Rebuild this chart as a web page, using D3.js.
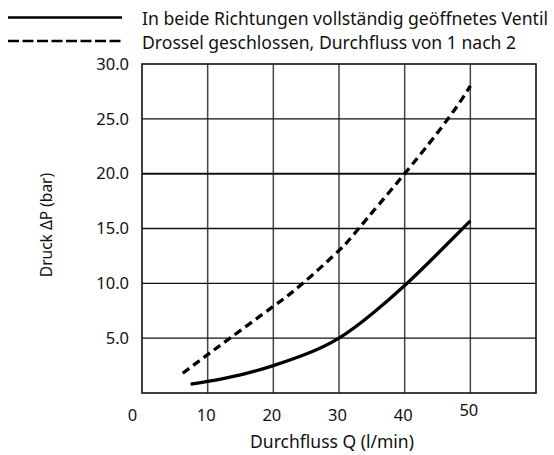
<!DOCTYPE html>
<html>
<head>
<meta charset="utf-8">
<script src="https://cdn.jsdelivr.net/npm/d3@7"></script>
<style>
    body { margin: 0; background: #fff; }
    svg text { font-family: "Noto Sans", sans-serif; fill: #111; }
</style>
</head>
<body>
<svg id="chart" width="554" height="455"></svg>
<script>
// series
var legendLabels = ['In beide Richtungen vollständig geöffnetes Ventil', 'Drossel geschlossen, Durchfluss von 1 nach 2'];
var flowOpen = [7.4, 10, 15, 20, 25, 30, 35, 40, 45, 50];
var pressOpen = [0.8, 1.05, 1.65, 2.5, 3.55, 5.0, 7.2, 9.8, 12.7, 15.7];
var flowClosed = [6.2, 10, 13.4, 20, 24.5, 30, 33, 40, 46.6, 50];
var pressClosed = [1.8, 3.5, 5.0, 7.9, 10.0, 13.0, 15.0, 20.0, 25.0, 28.0];
var xTicks = [0, 10, 20, 30, 40, 50];
var yTicks = [5, 10, 15, 20, 25, 30];
var xTitle = 'Durchfluss Q (l/min)';
var yTitle = 'Druck ΔP (bar)';

(function () {
    var svg = d3.select('#chart');
    var left = 142, right = 536, top = 64, bottom = 393;

    var x = d3.scaleLinear().domain([0, 60]).range([left, right]);
    var y = d3.scaleLinear().domain([0, 30]).range([bottom, top]);

    // grid
    svg.append('g').selectAll('line').data(xTicks.filter(d => d > 0)).enter().append('line')
        .attr('x1', d => x(d)).attr('x2', d => x(d)).attr('y1', top).attr('y2', bottom)
        .attr('stroke', '#444').attr('stroke-width', 1.5);
    svg.append('g').selectAll('line').data(yTicks.filter(d => d < 30)).enter().append('line')
        .attr('x1', left).attr('x2', right).attr('y1', d => y(d)).attr('y2', d => y(d))
        .attr('stroke', '#111').attr('stroke-width', d => d == 20 ? 2 : 1.3);
    svg.append('rect').attr('x', left).attr('y', top).attr('width', right - left).attr('height', bottom - top)
        .attr('fill', 'none').attr('stroke', '#111').attr('stroke-width', 1.6);

    // tick labels
    var yAxis = svg.append('g').attr('transform', 'translate(' + left + ',0)')
        .call(d3.axisLeft(y).tickValues(yTicks).tickSize(0).tickPadding(13).tickFormat(d3.format('.1f')));
    var xAxis = svg.append('g').attr('transform', 'translate(0,' + bottom + ')')
        .call(d3.axisBottom(x).tickValues(xTicks).tickSize(0).tickPadding(16).tickFormat(d3.format('d')));
    [yAxis, xAxis].forEach(function (a) {
        a.select('.domain').remove();
        a.selectAll('text').attr('font-size', 16.5).attr('font-family', '"Noto Sans", sans-serif').attr('fill', '#111');
    });
    xAxis.selectAll('text').attr('dx', d => d == 0 ? -10 : -2).attr('dy', d => d == 50 ? '0.45em' : '0.71em');

    // curves
    var line = d3.line().x(d => x(d[0])).y(d => y(d[1])).curve(d3.curveNatural);
    svg.append('path').datum(d3.zip(flowOpen, pressOpen)).attr('d', line)
        .attr('fill', 'none').attr('stroke', '#000').attr('stroke-width', 3.3);
    svg.append('path').datum(d3.zip(flowClosed, pressClosed)).attr('d', line)
        .attr('fill', 'none').attr('stroke', '#000').attr('stroke-width', 3.3).attr('stroke-dasharray', '8,5');

    // titles
    svg.append('text').attr('x', 332).attr('y', 448).attr('text-anchor', 'middle')
        .attr('font-size', 17.5).text(xTitle);
    svg.append('text').attr('transform', 'translate(52,225) rotate(-90)').attr('text-anchor', 'middle')
        .attr('font-size', 15.5).text(yTitle);

    // legend
    var lg = svg.append('g').selectAll('g').data(legendLabels).enter().append('g')
        .attr('transform', (d, i) => 'translate(0,' + (i * 23.5) + ')');
    lg.append('line').attr('x1', 8).attr('x2', 122).attr('y1', 17.5).attr('y2', 17.5)
        .attr('stroke', '#000').attr('stroke-width', 2.4)
        .attr('stroke-dasharray', (d, i) => i ? '11,3.5' : null);
    lg.append('text').attr('x', 142).attr('y', 25).attr('font-size', 17.6).text(d => d);
})();
</script>
</body>
</html>
